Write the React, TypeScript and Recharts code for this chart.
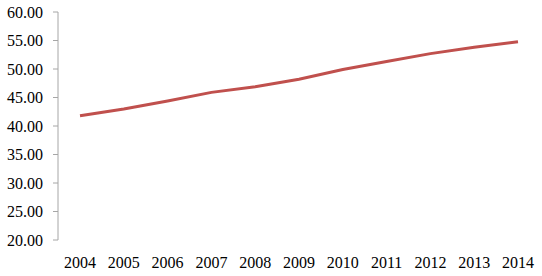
import { LineChart, Line, XAxis, YAxis } from 'recharts';

const years = ['2004', '2005', '2006', '2007', '2008', '2009', '2010', '2011', '2012', '2013', '2014'];
const values = [41.8, 43.0, 44.4, 45.9, 46.9, 48.2, 49.9, 51.3, 52.7, 53.8, 54.8];
const yTicks = [20, 25, 30, 35, 40, 45, 50, 55, 60];
const boundaryTicks = [0, 1, 2, 3, 4, 5, 6, 7, 8, 9, 10, 11];

const data = years.map((year, i) => ({ year, value: values[i] }));

const axisColor = '#a6a6a6';
const tickFont = { fontFamily: 'Liberation Serif', fontSize: 16, fill: '#000' };

export default function App() {
  return (
    <div style={{ width: 542, height: 276 }}>
      <style>{`body { margin: 0; } svg text { font-family: 'Liberation Serif', serif !important; }`}</style>
      <LineChart width={542} height={276} data={data} margin={{ top: 12, right: 2, bottom: 0, left: 0 }}>
        <XAxis
          xAxisId="edges"
          type="number"
          domain={[0, 11]}
          ticks={boundaryTicks}
          allowDataOverflow
          tick={false}
          tickSize={4}
          height={0}
          axisLine={{ stroke: axisColor }}
          tickLine={{ stroke: axisColor }}
        />
        <XAxis
          dataKey="year"
          height={36}
          padding={{ left: 22, right: 22 }}
          axisLine={false}
          tickLine={false}
          tickSize={0}
          tickMargin={17}
          interval={0}
          tick={tickFont}
        />
        <YAxis
          width={58}
          domain={[20, 60]}
          ticks={yTicks}
          interval={0}
          tickFormatter={(v: number) => v.toFixed(2)}
          tick={tickFont}
          tickSize={5}
          tickMargin={10}
          axisLine={{ stroke: axisColor }}
          tickLine={{ stroke: axisColor }}
        />
        <Line
          type="linear"
          dataKey="value"
          stroke="#c0504d"
          strokeWidth={3}
          dot={false}
          isAnimationActive={false}
        />
      </LineChart>
    </div>
  );
}
